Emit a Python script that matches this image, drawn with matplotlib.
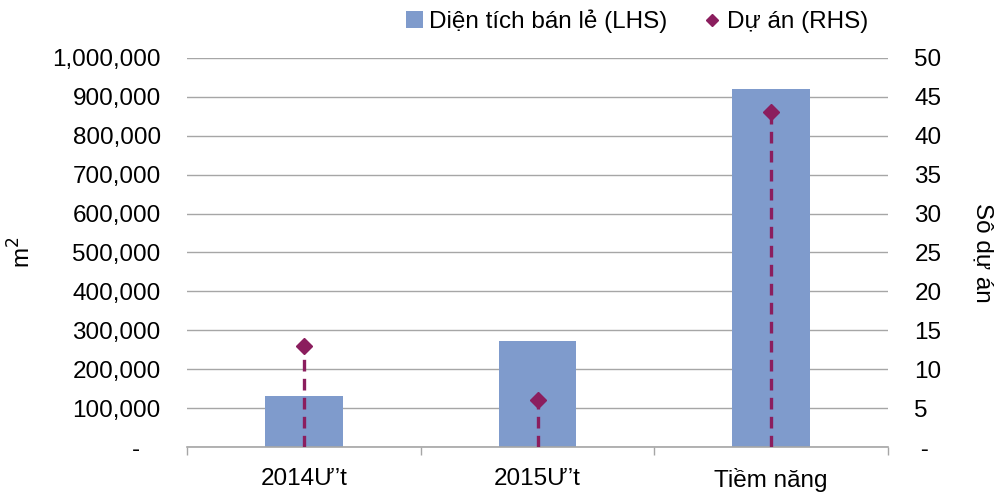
import matplotlib.pyplot as plt
from matplotlib.ticker import FuncFormatter

# --- DATA ---
categories = ["2014Ư’t", "2015Ư’t", "Tiềm năng"]
retail_area = [131000, 272000, 920000]   # m2, left axis
projects = [13, 6, 43]                    # number of projects, right axis

bar_color = "#7F9BCC"
proj_color = "#8B1E5E"
grid_color = "#A6A6A6"

plt.rcParams["font.family"] = ["Liberation Sans", "DejaVu Sans"]
fs = 17.5

# --- FIGURE ---
fig = plt.figure(figsize=(9.97, 4.93), dpi=100)
ax = fig.add_axes([0.1876, 0.0933, 0.7031, 0.7891])
ax2 = ax.twinx()

x = list(range(len(categories)))
ax.bar(x, retail_area, width=0.333, color=bar_color, zorder=2,
       label="Diện tích bán lẻ (LHS)")

# dashed drop lines + diamond markers
ax2.vlines(x, 0, projects, colors=proj_color, linestyles=(0, (3.5, 2.2)),
           linewidth=2.4, zorder=3)
ax2.plot(x, projects, linestyle="none", marker="D", markersize=8,
         color=proj_color, zorder=4, label="Dự án (RHS)")

# --- AXES ---
ax.set_xlim(-0.5, 2.5)
ax.set_ylim(0, 1000000)
ax2.set_ylim(0, 50)
ax.set_yticks(range(0, 1000001, 100000))
ax2.set_yticks(range(0, 51, 5))
ax.yaxis.set_major_formatter(FuncFormatter(lambda v, p: "-   " if v == 0 else f"{int(v):,}"))
ax2.yaxis.set_major_formatter(FuncFormatter(lambda v, p: " -" if v == 0 else f"{int(v)}"))

ax.set_xticks(x)
ax.set_xticklabels(categories)
ax.set_xticks([-0.5, 0.5, 1.5, 2.5], minor=True)
ax.tick_params(axis="x", which="major", length=0, pad=15, labelsize=fs)
ax.tick_params(axis="x", which="minor", length=6, width=1, color=grid_color)
ax.tick_params(axis="y", length=0, pad=19, labelsize=fs)
ax2.tick_params(axis="y", length=0, pad=19, labelsize=fs)

ax.yaxis.grid(True, color=grid_color, linewidth=1)
ax.set_axisbelow(True)
for a in (ax, ax2):
    for s in ("left", "right", "top", "bottom"):
        a.spines[s].set_visible(False)
ax.spines["bottom"].set_visible(True)
ax.spines["bottom"].set_color(grid_color)
ax.spines["bottom"].set_linewidth(1.2)

ax.set_ylabel("m$^2$", fontsize=fs, va="center", ha="center")
ax.yaxis.set_label_coords(-0.235, 0.5)
ax2.set_ylabel("Sô dự án", fontsize=fs, rotation=-90, va="center", ha="center")
ax2.yaxis.set_label_coords(1.135, 0.5)

# --- LEGEND ---
h1, l1 = ax.get_legend_handles_labels()
h2, l2 = ax2.get_legend_handles_labels()
fig.legend(h1 + h2, l1 + l2, loc="upper center", bbox_to_anchor=(0.639, 1.025),
           ncol=2, frameon=False, fontsize=fs, handlelength=0.7,
           handletextpad=0.25, columnspacing=1.5, markerscale=0.8)

fig.savefig("out.png", dpi=100)
